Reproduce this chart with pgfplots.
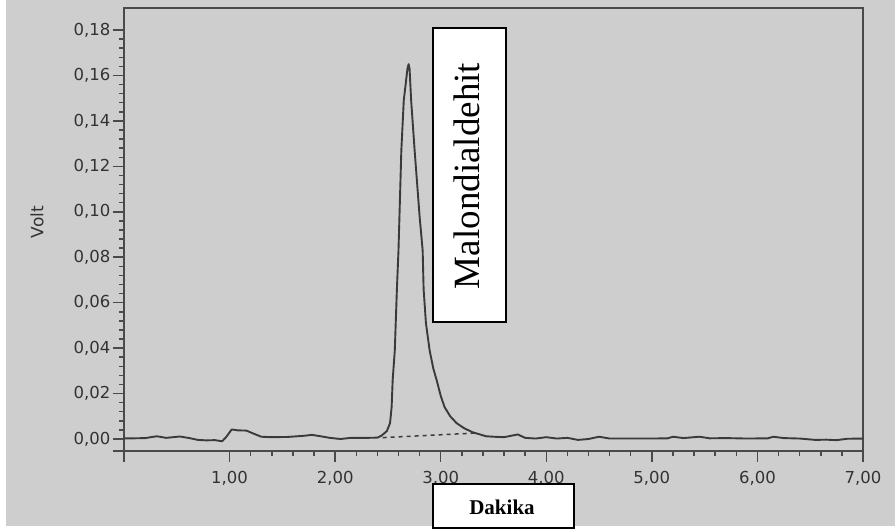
\documentclass[border=0pt]{standalone}
\usepackage{pgfplots}
\pgfplotsset{compat=1.18}
\usepackage{fontspec}
\setmainfont{DejaVu Sans}
\newfontfamily\serif{Liberation Serif}
\definecolor{bg}{HTML}{CECECE}
\definecolor{ax}{HTML}{4A4A4A}
\definecolor{crv}{HTML}{3A3A3A}
\definecolor{tl}{HTML}{333333}
\begin{document}
\begin{tikzpicture}[x=1pt,y=1pt]
\path[use as bounding box] (0,0) rectangle (895,532);
\fill[bg] (6,6) rectangle (895,532);
\begin{axis}[
  at={(124pt,81pt)}, anchor=south west,
  scale only axis, width=739pt, height=443pt,
  xmin=0, xmax=7, ymin=-0.00528, ymax=0.1897,
  axis line style={ax, line width=2pt},
  xtick={1,2,3,4,5,6,7},
  ytick={0,0.02,0.04,0.06,0.08,0.10,0.12,0.14,0.16,0.18},
  minor x tick num=4, minor y tick num=4,
  tick style={ax, line width=1.5pt},
  major tick length=11pt, minor tick length=5pt,
  tick align=outside, tick pos=left,
  extra x ticks={0}, extra x tick labels={},
  extra y ticks={-0.00528}, extra y tick labels={},
  extra tick style={minor tick num=0},
  ticklabel style={font=\fontsize{16.5}{19}\selectfont, text=tl},
  xticklabel style={yshift=-6pt, /pgf/number format/.cd, fixed, fixed zerofill, precision=2, use comma, assume math mode=true},
  yticklabel style={xshift=1pt, /pgf/number format/.cd, fixed, fixed zerofill, precision=2, use comma, assume math mode=true},
  scaled y ticks=false,
]
\addplot[crv, line width=1.9pt, line join=round] coordinates {
(0.00,0.0003) (0.10,0.0003) (0.20,0.0004) (0.31,0.0012) (0.40,0.0005)
(0.53,0.0011) (0.62,0.0004) (0.70,-0.0004) (0.78,-0.0006) (0.86,-0.0005)
(0.93,-0.0010) (0.97,0.0010) (1.02,0.0042) (1.08,0.0038) (1.16,0.0037)
(1.22,0.0025) (1.30,0.0010) (1.40,0.0008) (1.55,0.0009) (1.70,0.0014)
(1.78,0.0018) (1.85,0.0013) (1.95,0.0005) (2.05,0.0000) (2.15,0.0005)
(2.30,0.0005) (2.40,0.0006) (2.44,0.0015) (2.49,0.0035) (2.52,0.0070)
(2.535,0.0140) (2.545,0.0260) (2.565,0.0390) (2.585,0.0660) (2.60,0.0830)
(2.627,0.1270) (2.65,0.1490) (2.685,0.1630) (2.696,0.1650) (2.705,0.1630)
(2.72,0.1490) (2.753,0.1270) (2.80,0.0980) (2.829,0.0830) (2.838,0.0660)
(2.86,0.0510) (2.895,0.0390) (2.93,0.0310) (2.961,0.0260) (3.00,0.0190)
(3.037,0.0140) (3.09,0.0100) (3.15,0.0070) (3.22,0.0048) (3.30,0.0030)
(3.43,0.0012) (3.50,0.0010) (3.60,0.0008) (3.73,0.0020) (3.80,0.0005)
(3.90,0.0002) (4.00,0.0008) (4.10,0.0002) (4.20,0.0005) (4.30,-0.0004)
(4.40,0.0000) (4.50,0.0010) (4.60,0.0002) (4.80,0.0002) (5.00,0.0002)
(5.15,0.0003) (5.20,0.0010) (5.30,0.0004) (5.45,0.0010) (5.55,0.0003)
(5.70,0.0004) (5.90,0.0002) (6.10,0.0003) (6.15,0.0010) (6.25,0.0004)
(6.40,0.0002) (6.55,-0.0004) (6.65,-0.0003) (6.75,-0.0005) (6.85,0.0001)
(7.00,0.0002)
};
\addplot[crv, line width=1.5pt, dash pattern=on 4pt off 4pt] coordinates {(2.45,0.0006) (3.32,0.0026)};
\end{axis}
\node[rotate=90, text=tl, font=\fontsize{17}{20}\selectfont] at (37,310) {Volt};
\node[draw=black, line width=1.2pt, fill=white, minimum width=73pt, minimum height=294pt, inner sep=0pt] at (469.5,357) {};
\node[rotate=90, font=\serif\fontsize{37}{40}\selectfont] at (467,356) {Malondialdehit};
\node[draw=black, line width=1.2pt, fill=white, minimum width=141pt, minimum height=44pt, inner sep=0pt] at (503.5,26) {};
\node[font=\serif\bfseries\fontsize{21}{24}\selectfont] at (502,25) {Dakika};
\end{tikzpicture}
\end{document}
